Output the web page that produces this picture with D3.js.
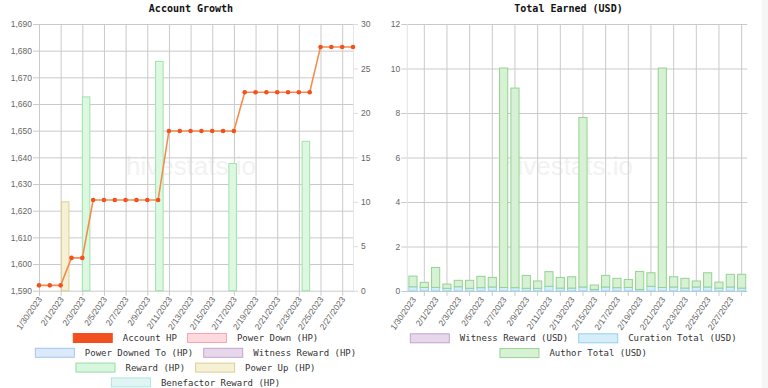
<!DOCTYPE html>
<html>
<head>
<meta charset="utf-8">
<script src="https://cdn.jsdelivr.net/npm/d3@7"></script>
<style>
  body { margin: 0; background: #fff; }
  .tick text { fill: #666; font-family: "Liberation Sans Narrow", "Liberation Sans", Arial, sans-serif; font-size: 8.5px; }
  .title { font-family: "DejaVu Sans Mono", monospace; font-size: 10px; font-weight: bold; fill: #111; }
  .legend text { font-family: "DejaVu Sans Mono", monospace; font-size: 9px; fill: #333; }
  .mark { font-family: "Liberation Sans", Arial, sans-serif; font-size: 26px; fill: #f2f2f2; }
</style>
</head>
<body>
<div id="wrapper"></div>
<script>
// categories
const dates = ["1/30/2023", "1/31/2023", "2/1/2023", "2/2/2023", "2/3/2023", "2/4/2023", "2/5/2023", "2/6/2023",
  "2/7/2023", "2/8/2023", "2/9/2023", "2/10/2023", "2/11/2023", "2/12/2023", "2/13/2023", "2/14/2023",
  "2/15/2023", "2/16/2023", "2/17/2023", "2/18/2023", "2/19/2023", "2/20/2023", "2/21/2023", "2/22/2023",
  "2/23/2023", "2/24/2023", "2/25/2023", "2/26/2023", "2/27/2023", "2/28/2023"];

// Account Growth
const accountHP = [1592, 1592, 1592, 1602.3, 1602.3, 1624, 1624, 1624, 1624, 1624, 1624, 1624,
  1649.9, 1649.9, 1649.9, 1649.9, 1649.9, 1649.9, 1649.9,
  1664.4, 1664.4, 1664.4, 1664.4, 1664.4, 1664.4, 1664.4,
  1681.4, 1681.4, 1681.4, 1681.4];
const rewardHP = [0, 0, 0, 0, 21.8, 0, 0, 0, 0, 0, 0, 25.8, 0, 0, 0, 0, 0, 0, 14.3, 0, 0, 0, 0, 0, 0, 16.8, 0, 0, 0, 0];
const powerUpHP = [0, 0, 10, 0, 0, 0, 0, 0, 0, 0, 0, 0, 0, 0, 0, 0, 0, 0, 0, 0, 0, 0, 0, 0, 0, 0, 0, 0, 0, 0];
const hpTicks = [1590, 1600, 1610, 1620, 1630, 1640, 1650, 1660, 1670, 1680, 1690];
const hpRightTicks = [0, 5, 10, 15, 20, 25, 30];

// Total Earned (USD)
const curationUSD = [0.19, 0.16, 0.16, 0.12, 0.19, 0.12, 0.15, 0.18, 0.16, 0.15, 0.12, 0.12, 0.21, 0.13, 0.13,
  0.18, 0.07, 0.18, 0.15, 0.16, 0.07, 0.21, 0.16, 0.18, 0.13, 0.18, 0.18, 0.13, 0.18, 0.13];
const authorUSD = [0.48, 0.23, 0.9, 0.19, 0.29, 0.36, 0.51, 0.43, 9.86, 8.97, 0.58, 0.33, 0.66, 0.48, 0.51,
  7.62, 0.2, 0.52, 0.42, 0.36, 0.81, 0.61, 9.86, 0.46, 0.44, 0.27, 0.64, 0.27, 0.57, 0.62];
const usdTicks = [0, 2, 4, 6, 8, 10, 12];

const leftLegend = [
  [["Account HP", "#f2511f", "#f2511f"], ["Power Down (HP)", "#ffd9de", "#f9a5b2"]],
  [["Power Downed To (HP)", "#dce9fb", "#a6c5f0"], ["Witness Reward (HP)", "#e6d7ea", "#c6a3d1"]],
  [["Reward (HP)", "#d9f7df", "#93dea0"], ["Power Up (HP)", "#f6f0d5", "#dccf92"]],
  [["Benefactor Reward (HP)", "#e0f5f3", "#ade6df"]]
];
const rightLegend = [
  [["Witness Reward (USD)", "#e6d7ea", "#c6a3d1"], ["Curation Total (USD)", "#d6eef9", "#93d0ea"]],
  [["Author Total (USD)", "#d7f1d4", "#95d38f"]]
];

const svg = d3.select("#wrapper").append("svg")
  .attr("width", 768)
  .attr("height", 388);

svg.append("rect").attr("x", 762).attr("y", 0).attr("width", 6).attr("height", 388).attr("fill", "#f6f6f6");

const gridColor = "#cacaca";

function drawLegend(rows, cx, y0) {
  const g = svg.append("g").attr("class", "legend");
  rows.forEach((row, r) => {
    const y = y0 + r * 14.8;
    const rowG = g.append("g");
    let x = 0;
    row.forEach(item => {
      rowG.append("rect")
        .attr("x", x + 0.5).attr("y", y - 4.5)
        .attr("width", 39).attr("height", 9)
        .attr("fill", item[1]).attr("stroke", item[2]);
      const t = rowG.append("text")
        .attr("x", x + 50).attr("y", y).attr("dy", "0.35em")
        .text(item[0]);
      x += 50 + t.node().getComputedTextLength() + 10;
    });
    const w = x - 10;
    rowG.attr("transform", `translate(${cx - w / 2},0)`);
  });
}

function xLabels(g, xs, y) {
  dates.forEach((d, i) => {
    if (i % 2) return;
    g.append("text")
      .attr("class", "xl")
      .attr("transform", `translate(${xs(d) + 1},${y}) rotate(-55)`)
      .attr("text-anchor", "end")
      .attr("dy", "0.35em")
      .style("fill", "#666")
      .style("font-family", "'Liberation Sans Narrow', 'Liberation Sans', Arial, sans-serif")
      .style("font-size", "8.5px")
      .text(d);
  });
}

// ---------- Account Growth ----------
{
  const left = 39, right = 353, top = 24, bottom = 290.7;
  const xPt = d3.scalePoint().domain(dates).range([left, right]);
  const xBand = d3.scaleBand().domain(dates).range([left, right]);
  const yL = d3.scaleLinear().domain([1590, 1690]).range([bottom, top]);
  const yR = d3.scaleLinear().domain([0, 30]).range([bottom, top]);

  svg.append("text").attr("class", "mark").attr("x", 191).attr("y", 175)
    .attr("text-anchor", "middle").text("hivestats.io");

  const gy = svg.append("g")
    .attr("transform", `translate(${left},0)`)
    .call(d3.axisLeft(yL).tickValues(hpTicks).tickFormat(d3.format(",")).tickSize(-(right - left)).tickPadding(7));
  gy.selectAll(".tick line").attr("x1", -6).attr("stroke", gridColor);
  gy.select(".domain").remove();

  const gx = svg.append("g")
    .attr("transform", `translate(0,${bottom})`)
    .call(d3.axisBottom(xPt).tickValues(dates.filter((d, i) => i % 2 === 0)).tickSize(-(bottom - top)).tickFormat(""));
  gx.selectAll(".tick line").attr("y1", 5).attr("stroke", gridColor);
  gx.select(".domain").remove();
  xLabels(svg.append("g"), xPt, bottom + 7);

  const gr = svg.append("g")
    .attr("transform", `translate(${right},0)`)
    .call(d3.axisRight(yR).tickValues(hpRightTicks).tickSize(5).tickPadding(3));
  gr.selectAll(".tick line").attr("stroke", "#ddd");
  gr.select(".domain").attr("stroke", "#e6e6e6");

  const bw = xBand.bandwidth() * 0.72;
  const bars = svg.append("g");
  [[powerUpHP, "#f6f0d5", "#dccf92"], [rewardHP, "#dcf8e0", "#9ee3aa"]].forEach(([vals, fill, stroke]) => {
    bars.selectAll(null)
      .data(dates.map((d, i) => [d, vals[i]]).filter(d => d[1] > 0))
      .enter().append("rect")
      .attr("x", d => xBand(d[0]) + (xBand.bandwidth() - bw) / 2)
      .attr("y", d => yR(d[1]))
      .attr("width", bw)
      .attr("height", d => yR(0) - yR(d[1]))
      .attr("fill", fill)
      .attr("stroke", stroke);
  });

  const line = d3.line().x((d, i) => xPt(dates[i])).y(d => yL(d));
  svg.append("path").datum(accountHP)
    .attr("d", line).attr("fill", "none")
    .attr("stroke", "#f58c4e").attr("stroke-width", 1.6);
  svg.append("g").selectAll("circle").data(accountHP).enter().append("circle")
    .attr("cx", (d, i) => xPt(dates[i]))
    .attr("cy", d => yL(d))
    .attr("r", 2.3)
    .attr("fill", "#f2511f");

  svg.append("text").attr("class", "title").attr("x", 191).attr("y", 12)
    .attr("text-anchor", "middle").text("Account Growth");

  drawLegend(leftLegend, 195.5, 338);
}

// ---------- Total Earned (USD) ----------
{
  const left = 407.3, right = 747.3, top = 24, bottom = 291;
  const xBand = d3.scaleBand().domain(dates).range([left, right]);
  const y = d3.scaleLinear().domain([0, 12]).range([bottom, top]);
  const cx = d => xBand(d) + xBand.bandwidth() / 2;

  svg.append("text").attr("class", "mark").attr("x", 568).attr("y", 175)
    .attr("text-anchor", "middle").text("hivestats.io");

  const gy = svg.append("g")
    .attr("transform", `translate(${left},0)`)
    .call(d3.axisLeft(y).tickValues(usdTicks).tickSize(-(right - left)).tickPadding(7));
  gy.selectAll(".tick line").attr("x1", -6).attr("stroke", gridColor);
  gy.select(".domain").remove();

  const vg = svg.append("g");
  vg.append("line").attr("x1", left).attr("x2", left).attr("y1", top).attr("y2", bottom)
    .attr("stroke", "#e3e3e3");
  vg.selectAll(null).data(dates.filter((d, i) => i % 2 === 1)).enter().append("line")
    .attr("x1", d => cx(d)).attr("x2", d => cx(d))
    .attr("y1", top).attr("y2", bottom + 5)
    .attr("stroke", gridColor);
  xLabels(svg.append("g"), cx, bottom + 7);

  const bw = xBand.bandwidth() * 0.72;
  const bars = svg.append("g");
  bars.selectAll(null).data(dates).enter().append("rect")
    .attr("x", d => xBand(d) + (xBand.bandwidth() - bw) / 2)
    .attr("y", (d, i) => y(curationUSD[i]))
    .attr("width", bw)
    .attr("height", (d, i) => y(0) - y(curationUSD[i]))
    .attr("fill", "#d6eef9").attr("stroke", "#93d0ea");
  bars.selectAll(null).data(dates).enter().append("rect")
    .attr("x", d => xBand(d) + (xBand.bandwidth() - bw) / 2)
    .attr("y", (d, i) => y(curationUSD[i] + authorUSD[i]))
    .attr("width", bw)
    .attr("height", (d, i) => y(curationUSD[i]) - y(curationUSD[i] + authorUSD[i]))
    .attr("fill", "#d7f1d4").attr("stroke", "#95d38f");

  svg.append("text").attr("class", "title").attr("x", 568.5).attr("y", 12)
    .attr("text-anchor", "middle").text("Total Earned (USD)");

  drawLegend(rightLegend, 573.2, 338.3);
}
</script>
</body>
</html>
